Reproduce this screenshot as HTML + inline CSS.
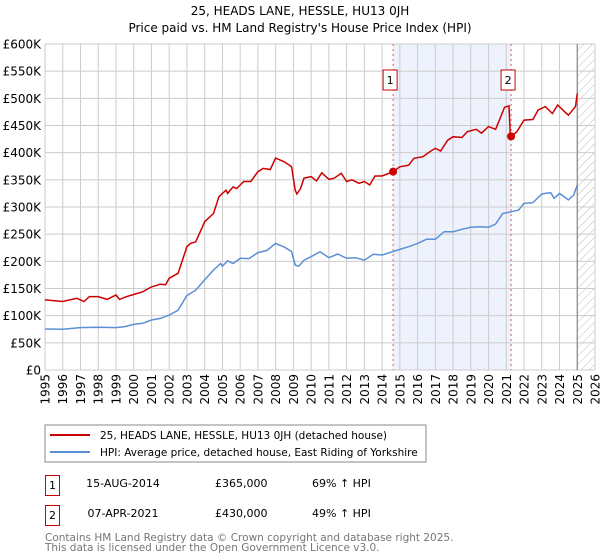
<!DOCTYPE html>
<html><head><meta charset="utf-8"><style>
body{margin:0;background:#fff;font-family:"Liberation Sans","DejaVu Sans",sans-serif;}
svg{display:block}
</style></head><body>
<svg id="c" width="600" height="560" xmlns="http://www.w3.org/2000/svg" font-family="DejaVu Sans, Liberation Sans, sans-serif">
<defs><pattern id="hatch" width="6" height="6" patternUnits="userSpaceOnUse" patternTransform="rotate(45)"><line x1="0" y1="0" x2="0" y2="6" stroke="#bbb" stroke-width="1"/></pattern></defs>
<text x="300" y="15" text-anchor="middle" font-size="12">25, HEADS LANE, HESSLE, HU13 0JH</text>
<text x="300" y="32" text-anchor="middle" font-size="12">Price paid vs. HM Land Registry's House Price Index (HPI)</text>
<g id="plot"></g>
<rect x="45" y="425" width="381" height="37" fill="#fff" stroke="#888"/>
<line x1="50" y1="435" x2="90" y2="435" stroke="#cc0000" stroke-width="2"/>
<text x="100" y="439" font-size="10.5">25, HEADS LANE, HESSLE, HU13 0JH (detached house)</text>
<line x1="50" y1="452" x2="90" y2="452" stroke="#5b8fd6" stroke-width="2"/>
<text x="100" y="456" font-size="10.5">HPI: Average price, detached house, East Riding of Yorkshire</text>
<g font-size="11">
<rect x="45.5" y="475.5" width="14" height="20" fill="#fff" stroke="#cc0000"/>
<text x="52.5" y="489" text-anchor="middle">1</text>
<text x="123" y="487" text-anchor="middle">15-AUG-2014</text>
<text x="215" y="487">£365,000</text>
<text x="312" y="487">69% ↑ HPI</text>
<rect x="45.5" y="505.5" width="14" height="20" fill="#fff" stroke="#cc0000"/>
<text x="52.5" y="519" text-anchor="middle">2</text>
<text x="123" y="517" text-anchor="middle">07-APR-2021</text>
<text x="215" y="517">£430,000</text>
<text x="312" y="517">49% ↑ HPI</text>
</g>
<text x="45" y="541" font-size="10.5" fill="#777">Contains HM Land Registry data © Crown copyright and database right 2025.</text>
<text x="45" y="551" font-size="10.5" fill="#777">This data is licensed under the Open Government Licence v3.0.</text>
</svg>
<script>
const yearTicks=[1995,1996,1997,1998,1999,2000,2001,2002,2003,2004,2005,2006,2007,2008,2009,2010,2011,2012,2013,2014,2015,2016,2017,2018,2019,2020,2021,2022,2023,2024,2025,2026];
const valueTicks=[0,50,100,150,200,250,300,350,400,450,500,550,600];
const valueLabels=["£0","£50K","£100K","£150K","£200K","£250K","£300K","£350K","£400K","£450K","£500K","£550K","£600K"];
const hpiDates=[1995,1996,1997,1998,1999,1999.5,2000,2000.5,2001,2001.5,2002,2002.5,2003,2003.5,2004,2004.5,2004.9,2005,2005.3,2005.6,2006,2006.5,2007,2007.5,2008,2008.5,2008.9,2009.1,2009.3,2009.6,2010,2010.5,2011,2011.5,2012,2012.5,2013,2013.5,2014,2014.6,2015,2015.5,2016,2016.5,2017,2017.5,2018,2018.5,2019,2019.5,2020,2020.4,2020.8,2021.3,2021.7,2022,2022.5,2023,2023.5,2023.7,2024,2024.5,2024.8,2025];
const hpiValues=[75.5,75,78,78.6,78,79.8,84,86,92,95,101,110,137,147,166,184,196,191,201,196,205.5,205,216,220,233,226,218,193,191,202,208.6,217.8,206.7,213.5,205.5,206.7,202,213,211.7,217.8,222,227,233,240.5,240.5,254.6,254.6,259,262.6,263.8,262.6,268.7,288,291.4,294.5,306.7,307.9,324,326.5,316,325,313,322,340.5];
const priceDates=[1995,1996,1996.8,1997.2,1997.5,1998,1998.5,1999,1999.2,1999.6,2000,2000.5,2001,2001.5,2001.8,2002,2002.5,2003,2003.2,2003.5,2004,2004.5,2004.8,2005.2,2005.3,2005.6,2005.8,2006.2,2006.6,2007,2007.3,2007.7,2008,2008.5,2008.9,2009.1,2009.2,2009.4,2009.6,2010,2010.3,2010.6,2011,2011.3,2011.7,2012,2012.3,2012.7,2013,2013.3,2013.6,2014,2014.62,2015,2015.5,2015.8,2016.3,2016.7,2017,2017.3,2017.7,2018,2018.5,2018.8,2019.3,2019.6,2020,2020.4,2020.6,2020.9,2021.15,2021.22,2021.27,2021.6,2022,2022.5,2022.8,2023.2,2023.6,2023.9,2024.3,2024.5,2024.9,2025];
const priceValues=[129,126,132,126,135,135,130,138,130,135,139,144,153,158,157,169,178,227,233,236,273,288,319,331,325,337,334,347,347,365,371,369,390,383,374,331,324,334,353,356,348,363,351,353,362,347,350,343.6,347,340.5,357,357,365,374,377,389.6,392.6,402,408,403,423,429.4,428,438.6,443,436,448,443,459,483.5,486,435.6,430,438.6,460,461,478.5,484.7,472,487.7,475,469,485,509];
const saleDates=[2014.62,2021.27];
const saleValues=[365,430];
const saleLabels=["1","2"];
const dataEnd=2025.0;

const X0=45,X1=595,Y0=370,Y1=44;
const xs=y=>X0+(y-1995)*(X1-X0)/31;
const ys=v=>Y0-v*(Y0-Y1)/600;
const NS="http://www.w3.org/2000/svg";
const g=document.getElementById('plot');
function mk(t,a,p){const e=document.createElementNS(NS,t);for(const k in a)e.setAttribute(k,a[k]);(p||g).appendChild(e);return e;}

const shade=mk('rect',{x:xs(saleDates[0]),y:Y1,width:xs(saleDates[1])-xs(saleDates[0]),height:Y0-Y1,fill:'#eef2fc'});


const hatch=mk('rect',{x:xs(dataEnd),y:Y1,width:X1-xs(dataEnd),height:Y0-Y1,fill:'url(#hatch)'});



yearTicks.forEach(yr=>{
  const l=mk('line',{x1:xs(yr),x2:xs(yr),y1:Y1,y2:Y0,stroke:'#ccc','stroke-width':1});
  
  
  const t=mk('text',{x:0,y:0,'font-size':12,'text-anchor':'end',transform:`translate(${xs(yr)+4.5},${Y0+4}) rotate(-90)`});
  t.textContent=yr;
  
  
});
valueTicks.forEach((v,i)=>{
  const l=mk('line',{x1:X0,x2:X1,y1:ys(v),y2:ys(v),stroke:'#ccc','stroke-width':1});
  
  
  const t=mk('text',{x:41,y:ys(v)+4.5,'font-size':12,'text-anchor':'end'});
  t.textContent=valueLabels[i];
  
  
});
const endLine=mk('line',{x1:xs(dataEnd),x2:xs(dataEnd),y1:Y1,y2:Y0,stroke:'#888','stroke-width':1.2});



saleDates.forEach((d,i)=>{
  const l=mk('line',{x1:xs(d),x2:xs(d),y1:Y1,y2:Y0,stroke:'#e55','stroke-width':1,'stroke-dasharray':'2,3'});
  
  
  const bx=xs(d)-10;
  const r=mk('rect',{x:bx,y:70,width:14,height:20,fill:'#fff',stroke:'#cc0000'});
  
  
  const t=mk('text',{x:bx+7,y:84,'font-size':11,'text-anchor':'middle'});
  t.textContent=saleLabels[i];
  
  
});

function path(ds,vs){return ds.map((d,i)=>(i?'L':'M')+xs(d).toFixed(1)+','+ys(vs[i]).toFixed(1)).join('');}
const hp=mk('path',{d:path(hpiDates,hpiValues),fill:'none',stroke:'#5b8fd6','stroke-width':1.5});


const pp=mk('path',{d:path(priceDates,priceValues),fill:'none',stroke:'#cc0000','stroke-width':1.5});


saleDates.forEach((d,i)=>{
  const c=mk('circle',{cx:xs(d),cy:ys(saleValues[i]),r:4,fill:'#cc0000'});
  
  
});
</script>
</body></html>
